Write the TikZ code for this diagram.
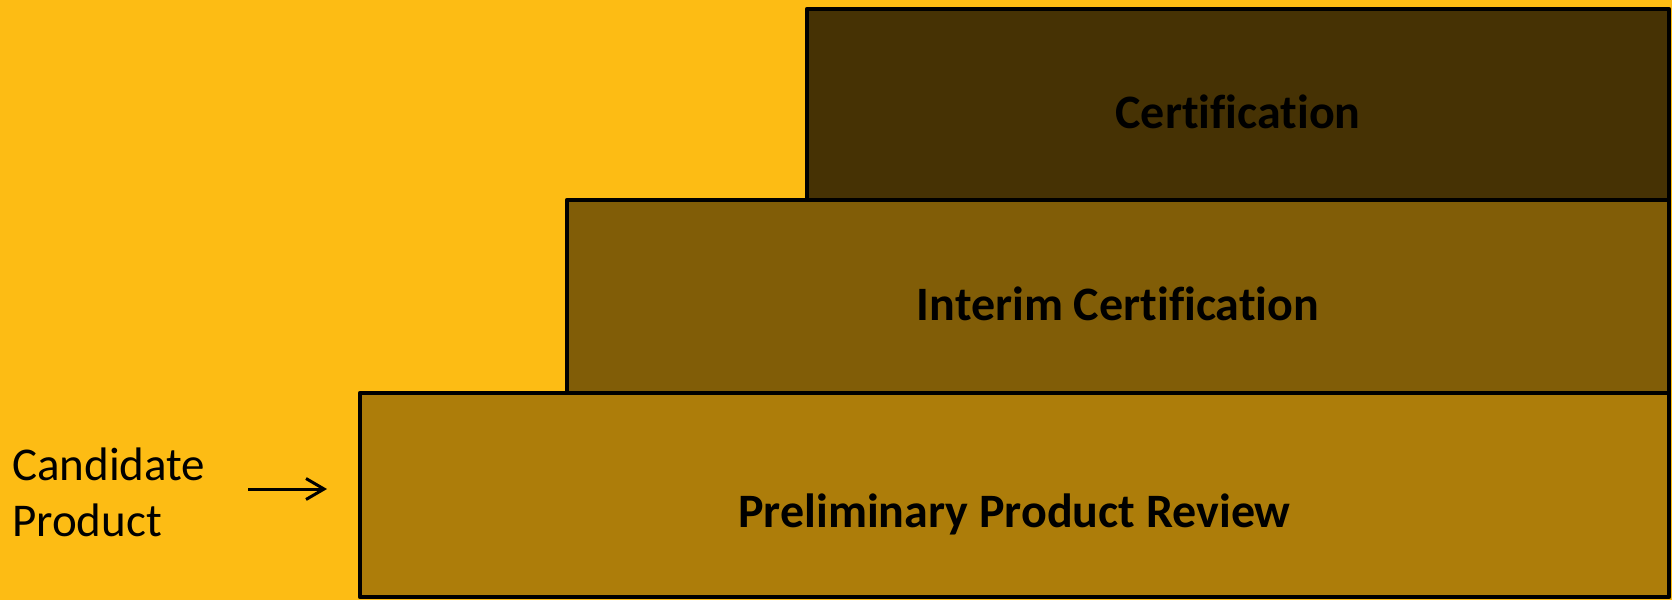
\documentclass[tikz,border=0pt]{standalone}
\usepackage{fontspec}
\setmainfont{Carlito}[Ligatures=NoCommon]
\usepackage{tikz}
\usetikzlibrary{arrows.meta}
\definecolor{stagebg}{RGB}{253,188,20}
\definecolor{certdark}{RGB}{70,50,4}
\definecolor{interimbrown}{RGB}{129,93,7}
\definecolor{prelimochre}{RGB}{173,125,10}

\begin{document}
\begin{tikzpicture}[x=1pt, y=-1pt, line join=round]
    \tikzstyle{stage} = [rectangle, draw=black, line width=4.5pt, anchor=north west, inner sep=0pt, outer sep=0pt, text centered, text depth=0pt, text height=48pt, font=\fontsize{48}{56}\selectfont\bfseries]
    \tikzstyle{caption} = [align=left, inner sep=0pt, anchor=base west, font=\fontsize{47}{56}\selectfont]

    % Background
    \fill [stagebg] (0,0) rectangle (1672,600);
    \useasboundingbox (0,0) rectangle (1672,600);

    % Stages, bottom to top
    \node [stage, fill=prelimochre, minimum width=1309pt, minimum height=204pt, text height=65pt] (prelim) at (360,393) {Preliminary Product Review};
    \node [stage, fill=interimbrown, minimum width=1102pt, minimum height=193pt] (interim) at (567,200) {Interim Certification};
    \node [stage, fill=certdark, minimum width=862pt, minimum height=191pt] (cert) at (807,9) {Certification};

    % Input
    \node [caption] (candidate) at (12,536) {Candidate\\Product};
    \coordinate (arrow_start) at (248,489);

    % Arrow
    \draw [-{Straight Barb[length=18pt, width=21pt]}, line width=3pt, shorten >=33pt] (arrow_start) -- (arrow_start -| prelim.west);
\end{tikzpicture}
\end{document}
